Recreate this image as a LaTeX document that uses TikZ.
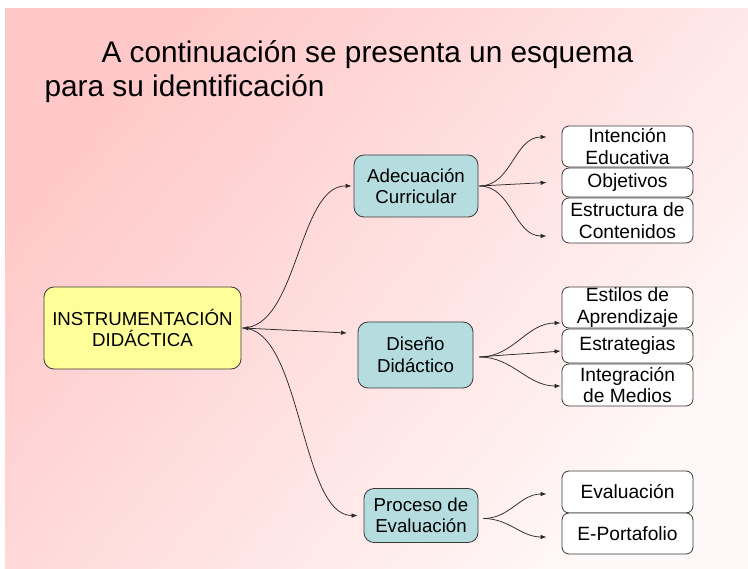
\documentclass[tikz,border=0pt]{standalone}
\usepackage{fontspec}
\setmainfont{Liberation Sans}
\usetikzlibrary{arrows.meta}
\definecolor{pinkA}{HTML}{FFC8C8}
\definecolor{pinkB}{HTML}{FFF8F8}
\definecolor{yellowc}{HTML}{FFFF99}
\definecolor{tealc}{HTML}{B5DCDF}
\definecolor{borderc}{HTML}{3A3A3A}
\definecolor{linec}{HTML}{2A2A2A}
\tikzset{
  boxfont/.style={font=\fontsize{18.7}{21.5}\selectfont},
  leaffont/.style={font=\fontsize{19.2}{21.5}\selectfont},
  mainbox/.style={draw=borderc, line width=0.8pt, fill=yellowc, rounded corners=10pt, align=center, inner sep=0pt, boxfont},
  midbox/.style={draw=borderc, line width=0.8pt, fill=tealc, rounded corners=10pt, align=center, inner sep=0pt, boxfont},
  leafbox/.style={draw=borderc, line width=0.8pt, fill=white, rounded corners=7pt, align=center, inner sep=0pt, leaffont},
  conn/.style={draw=linec, line width=0.75pt, -{Latex[length=6pt,width=4.5pt]}},
  conn2/.style={draw=linec, line width=0.75pt, {Latex[length=6pt,width=4.5pt]}-{Latex[length=6pt,width=4.5pt]}},
}
\begin{document}
\begin{tikzpicture}[x=1pt, y=-1pt]
\useasboundingbox (0,0) rectangle (748,569);
\fill[white] (0,0) rectangle (748,569);
\shade[shading=axis, top color=pinkA, bottom color=pinkB, shading angle=50] (5,9) rectangle (748,569);

\node[anchor=base west, font=\fontsize{29.8}{34}\selectfont] (t1) at (98,63) {A continuación se presenta un esquema};
\node[anchor=base west, font=\fontsize{29.8}{34}\selectfont] (t2) at (41,97) {para su identificación};

\node[mainbox, minimum width=197pt, minimum height=82pt] (main) at (142.5,328) {INSTRUMENTACIÓN\\DIDÁCTICA};

\node[midbox, minimum width=124pt, minimum height=62pt] (ade) at (416,186) {Adecuación\\Curricular};
\node[midbox, minimum width=115pt, minimum height=66pt] (dis) at (415.5,355) {Diseño\\Didáctico};
\node[midbox, minimum width=114pt, minimum height=54pt] (pro) at (421,515.5) {Proceso de\\Evaluación};

\node[leafbox, minimum width=131pt, minimum height=41pt] (l1) at (627.5,146.5) {Intención\\Educativa};
\node[leafbox, minimum width=131pt, minimum height=29pt] (l2) at (627.5,182.5) {Objetivos};
\node[leafbox, minimum width=131pt, minimum height=45pt] (l3) at (627.5,220.5) {Estructura de\\Contenidos};

\node[leafbox, minimum width=131pt, minimum height=41pt] (l4) at (627.5,307.5) {Estilos de\\Aprendizaje};
\node[leafbox, minimum width=131pt, minimum height=34pt] (l5) at (627.5,346) {Estrategias};
\node[leafbox, minimum width=131pt, minimum height=42pt] (l6) at (627.5,385) {Integración\\de Medios};

\node[leafbox, minimum width=131pt, minimum height=42pt] (l7) at (627.5,492) {Evaluación};
\node[leafbox, minimum width=131pt, minimum height=41pt] (l8) at (627.5,533.5) {E-Portafolio};

% main connectors
\coordinate (m0) at ([xshift=1pt]main.east);
\coordinate (mtip) at (347,333);
\draw[conn] (m0) .. controls (298,328) and (298,185) .. ([xshift=-2pt]ade.west);
\draw[conn2] (m0) -- (mtip);
\draw[conn] (m0) .. controls (302,328) and (300,516) .. ([xshift=-6pt]pro.west);

% Adecuacion children
\coordinate (a0) at ([xshift=1pt]ade.east);
\draw[conn] (a0) to[out=0,in=180] ([xshift=-15pt]l1.west |- 0,137);
\draw[conn] (a0) -- ([xshift=-15pt]l2.west);
\draw[conn] (a0) to[out=0,in=180] ([xshift=-15pt]l3.west |- 0,236);

% Diseno children
\coordinate (d0) at ([xshift=6pt,yshift=-2pt]dis.east);
\draw[conn] (d0) to[out=0,in=180] ([xshift=-1pt]l4.west |- 0,323);
\draw[conn] (d0) to[out=5,in=185] ([xshift=-1pt]l5.west |- 0,351);
\draw[conn] (d0) to[out=0,in=180] ([xshift=-1pt]l6.west |- 0,386);

% Proceso children
\coordinate (p0) at ([xshift=5pt,yshift=-3pt]pro.east);
\draw[conn] (p0) to[out=0,in=180] ([xshift=-15pt]l7.west |- 0,494);
\draw[conn] (p0) to[out=0,in=180] ([xshift=-15pt]l8.west |- 0,537);
\end{tikzpicture}
\end{document}
